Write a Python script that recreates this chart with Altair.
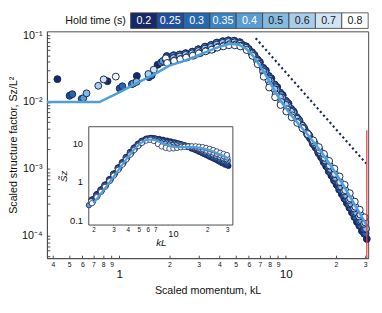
import altair as alt
import pandas as pd

# ---------------- data ----------------
HOLD = ["0.2", "0.25", "0.3", "0.35", "0.4", "0.5", "0.6", "0.7", "0.8"]
FILL = ["#172a66", "#1f4f9d", "#2767b0", "#3d83c3", "#5b9dd2",
        "#86b9de", "#aacdea", "#d0e4f4", "#ffffff"]
LABEL_INK = ["#ffffff"] * 5 + ["#1b1b1b"] * 4

# low-momentum points (main panel): scaled momentum kL and S_z/L^2
LOW_KL = [
    [0.425, 0.85, 1.275, 1.70],
    [0.503, 1.006, 1.51],
    [0.522, 1.044, 1.566],
    [0.595, 1.19, 1.785],
    [0.608, 1.216, 1.824],
    [0.636, 1.27, 1.905],
    [0.748, 1.496],
    [0.806, 1.612],
    [0.953, 1.906],
]
LOW_S = [
    [0.0220, 0.0205, 0.0245, 0.0360],
    [0.0124, 0.0160, 0.0235],
    [0.0131, 0.0172, 0.0250],
    [0.0112, 0.0185, 0.0390],
    [0.0114, 0.0190, 0.0410],
    [0.0135, 0.0200, 0.0430],
    [0.0175, 0.0262],
    [0.0218, 0.0305],
    [0.0240, 0.0450],
]

# momentum grid (kL >= 2) and per-series grid ratio (k L(t) offsets)
GRID_KL = [2.0, 2.2, 2.4, 2.6, 2.85, 3.1, 3.4, 3.7, 4.0, 4.35, 4.7, 5.1, 5.5,
           6.0, 6.5, 7.0, 7.6, 8.2, 8.9, 9.6, 10.4, 11.2, 12.1, 13.0, 14.0,
           15.1, 16.3, 17.5, 18.8, 20.2, 21.7, 23.3, 25.0, 26.8, 28.7, 30.7]
GRID_RATIO = [1.000, 0.965, 0.982, 0.958, 0.975, 0.990, 0.962, 0.978, 0.970]

# compensated structure factor (inset), one row per hold time, on GRID_KL
SC = [
    [0.36, 0.50, 0.66, 0.88, 1.22, 1.70, 2.45, 3.35, 4.55, 6.1, 8.0, 10.0, 11.9, 13.4, 13.8,
     13.5, 13.0, 12.4, 11.8, 11.2, 10.6, 10.0, 9.3, 8.6, 7.9, 7.2, 6.5, 5.9, 5.3, 4.8, 4.3, 3.9, 3.5, 3.1, 2.8, 2.6],
    [0.35, 0.48, 0.64, 0.85, 1.18, 1.65, 2.38, 3.25, 4.45, 6.0, 7.8, 9.8, 11.7, 13.2, 13.7,
     13.4, 12.8, 12.2, 11.6, 11.0, 10.5, 9.9, 9.3, 8.7, 8.0, 7.3, 6.7, 6.1, 5.5, 5.0, 4.5, 4.1, 3.7, 3.3, 3.0, 2.8],
    [0.34, 0.47, 0.63, 0.83, 1.16, 1.62, 2.33, 3.2, 4.35, 5.9, 7.7, 9.7, 11.5, 13.0, 13.5,
     13.3, 12.6, 12.0, 11.4, 10.9, 10.4, 9.9, 9.3, 8.7, 8.1, 7.5, 6.9, 6.3, 5.7, 5.2, 4.7, 4.3, 3.9, 3.5, 3.2, 3.0],
    [0.33, 0.46, 0.62, 0.82, 1.14, 1.60, 2.30, 3.15, 4.3, 5.8, 7.6, 9.6, 11.4, 12.9, 13.4,
     13.2, 12.4, 11.8, 11.2, 10.7, 10.3, 9.8, 9.3, 8.8, 8.2, 7.6, 7.0, 6.5, 5.9, 5.4, 4.9, 4.5, 4.1, 3.7, 3.4, 3.2],
    [0.32, 0.45, 0.61, 0.81, 1.13, 1.58, 2.27, 3.1, 4.25, 5.75, 7.5, 9.5, 11.3, 12.8, 13.3,
     13.0, 12.2, 11.5, 10.9, 10.5, 10.1, 9.7, 9.3, 8.8, 8.3, 7.8, 7.2, 6.7, 6.1, 5.6, 5.1, 4.7, 4.3, 3.9, 3.6, 3.4],
    [0.31, 0.44, 0.60, 0.80, 1.12, 1.56, 2.24, 3.05, 4.2, 5.7, 7.4, 9.4, 11.2, 12.7, 13.2,
     12.8, 11.8, 11.0, 10.4, 10.0, 9.7, 9.5, 9.2, 8.8, 8.4, 7.9, 7.4, 6.9, 6.4, 5.9, 5.4, 5.0, 4.6, 4.2, 3.9, 3.6],
    [0.30, 0.43, 0.59, 0.79, 1.10, 1.53, 2.2, 3.0, 4.1, 5.6, 7.3, 9.2, 11.0, 12.5, 13.0,
     12.5, 11.2, 10.3, 9.7, 9.3, 9.1, 9.0, 8.9, 8.7, 8.4, 8.0, 7.6, 7.1, 6.6, 6.1, 5.7, 5.2, 4.8, 4.4, 4.1, 3.9],
    [0.29, 0.42, 0.57, 0.77, 1.08, 1.50, 2.15, 2.9, 4.0, 5.4, 7.1, 9.0, 10.8, 12.3, 12.8,
     12.0, 10.4, 9.3, 8.6, 8.3, 8.2, 8.3, 8.4, 8.4, 8.3, 8.1, 7.8, 7.4, 7.0, 6.5, 6.1, 5.7, 5.3, 4.9, 4.6, 4.3],
    [0.28, 0.40, 0.55, 0.74, 1.04, 1.45, 2.05, 2.8, 3.8, 5.1, 6.7, 8.5, 10.3, 11.8, 12.3,
     11.5, 9.6, 8.3, 7.6, 7.3, 7.4, 7.6, 7.9, 8.1, 8.3, 8.4, 8.4, 8.2, 8.0, 7.6, 7.2, 6.7, 6.2, 5.7, 5.3, 5.0],
]

# theory curve: low part as S_z/L^2, high part as compensated value
THEORY_LOW_KL = [0.3677, 0.76, 1.0, 1.3, 1.6]
THEORY_LOW_S = [0.010, 0.010, 0.0140, 0.0196, 0.0255]
THEORY_KL = [2.0, 2.4, 2.85, 3.4, 4.0, 4.6, 5.2, 5.8, 6.4, 7.0, 7.8, 8.6, 9.4,
             10.5, 12.0, 14.0, 16.3, 19.0, 22.0, 25.0, 28.0, 30.7]
THEORY_SC = [0.28, 0.56, 1.1, 2.25, 4.3, 7.2, 10.2, 12.2, 12.6, 12.0, 10.7, 9.3, 8.4,
             8.0, 8.0, 8.1, 7.9, 7.2, 6.3, 5.4, 4.7, 4.1]

GUIDE_KL = [6.6, 30.5]          # k^-3 guide (dotted)
GUIDE_S = [0.090, 0.0012]
CUTOFF_KL = [30.7]              # red cut-off line
CUTOFF_S = [0.0038]
CUTOFF_S2 = [4.65e-5]

# ---------------- tables ----------------
rows = []
for j, t in enumerate(HOLD):
    for kl, s in zip(LOW_KL[j], LOW_S[j]):
        rows.append({"hold": t, "idx": j, "kL": kl, "S": s, "Sc": s * kl ** 3})
    for kl0, sc in zip(GRID_KL, SC[j]):
        kl = kl0 * GRID_RATIO[j]
        rows.append({"hold": t, "idx": j, "kL": kl, "S": sc / kl ** 3, "Sc": sc})
pts_df = pd.DataFrame(rows)

th_rows = [{"kL": k, "S": s, "Sc": s * k ** 3} for k, s in zip(THEORY_LOW_KL, THEORY_LOW_S)]
th_rows += [{"kL": k, "S": sc / k ** 3, "Sc": sc} for k, sc in zip(THEORY_KL, THEORY_SC)]
th_df = pd.DataFrame(th_rows)

guide_df = pd.DataFrame({"kL": GUIDE_KL, "S": GUIDE_S})
cut_df = pd.DataFrame({"kL": CUTOFF_KL, "S": CUTOFF_S, "S2": CUTOFF_S2})

leg_df = pd.DataFrame({"hold": HOLD, "i0": list(range(9)), "i1": list(range(1, 10)),
                       "ink": LABEL_INK})
leg_df["ic"] = leg_df["i0"] + 0.5
leg_df["y0"] = 0.0
leg_df["y1"] = 1.0
leg_df["ym"] = 0.5
leg_title_df = pd.DataFrame({"txt": ["Hold time (s)"], "x": [-0.18], "y": [0.5]})

NAVY = "#17285c"
AX = "#4a4a4a"
W, H = 330, 233

# ---------------- main panel ----------------
xs_main = alt.Scale(type="log", domain=[0.3677, 31.28], nice=False)
ys_main = alt.Scale(type="log", domain=[4.65e-5, 0.1139], nice=False)
fill_scale = alt.Scale(domain=HOLD, range=FILL)

major_x = "datum.value == 1 || datum.value == 10"
main_x_axis = alt.Axis(
    values=[0.4, 0.5, 0.6, 0.7, 0.8, 0.9, 1, 2, 3, 4, 5, 6, 7, 8, 9, 10, 20, 30],
    labelExpr="datum.value < 1 ? format(datum.value*10, 'd') : datum.value < 10 ? format(datum.value, 'd') : datum.value == 10 ? '10' : format(datum.value/10, 'd')",
    labelFontSize={"condition": {"test": major_x, "value": 12}, "value": 7},
    labelPadding={"condition": {"test": major_x, "value": 14}, "value": 6},
    tickSize={"expr": "-3"},
    labelOverlap=False, labelFlush=False, grid=False,
    title="Scaled momentum, kL", titleFontSize=11, titlePadding=5,
)
y_vals = [m * 10.0 ** e for e in range(-5, 0) for m in range(1, 10)
          if 4.65e-5 <= m * 10.0 ** e <= 0.1139]
main_y_axis = alt.Axis(
    values=y_vals,
    labelExpr="datum.value == 0.1 ? '10⁻¹' : datum.value == 0.01 ? '10⁻²' : datum.value == 0.001 ? '10⁻³' : datum.value == 0.0001 ? '10⁻⁴' : ''",
    labelFontSize=11, labelPadding=8, tickSize={"expr": "-3"},
    labelOverlap=False, labelFlush=False, grid=False,
    title="Scaled structure factor, Sz/L²", titleFontSize=11, titlePadding=3,
)

X = alt.X("kL:Q", scale=xs_main, axis=main_x_axis)
Y = alt.Y("S:Q", scale=ys_main, axis=main_y_axis)

pts = alt.Chart(pts_df).mark_circle(size=50, opacity=1, stroke=NAVY, strokeWidth=1).encode(
    x=X, y=Y,
    fill=alt.Fill("hold:N", scale=fill_scale, legend=None),
    order=alt.Order("idx:Q"),
)
theory = alt.Chart(th_df).mark_line(color="#4f9fdb", strokeWidth=2.6).encode(
    x=X, y=Y, order="kL:Q")
guide = alt.Chart(guide_df).mark_line(color=NAVY, strokeWidth=2.2, strokeDash=[2.2, 2.8]).encode(
    x=X, y=Y)
cutoff = alt.Chart(cut_df).mark_rule(color="#e8413c", strokeWidth=1.3).encode(
    x=X, y=Y, y2="S2:Q")
main_layer = alt.layer(pts, theory, guide, cutoff)

# ---------------- inset ----------------
xs_in = alt.Scale(type="log", domain=[1.82, 33.6], nice=False, range=[43, 191])
ys_in = alt.Scale(type="log", domain=[0.076, 27], nice=False, range=[199, 98])
in_x_axis = alt.Axis(
    orient="bottom", offset=199 - H, domain=False, grid=False,
    values=[2, 3, 4, 5, 6, 7, 8, 9, 10, 20, 30],
    labelExpr="datum.value == 10 ? '10' : (datum.value == 8 || datum.value == 9) ? '' : datum.value > 10 ? format(datum.value/10, 'd') : format(datum.value, 'd')",
    labelFontSize={"condition": {"test": "datum.value == 10", "value": 9.5}, "value": 6.5},
    labelPadding={"condition": {"test": "datum.value == 10", "value": 6.5}, "value": 4.5},
    tickSize={"expr": "-2.5"}, labelOverlap=False, labelFlush=False,
    title="kL", titleFontStyle="italic", titleFontSize=10, titlePadding=0,
)
in_y_vals = [m * 10.0 ** e for e in range(-2, 2) for m in range(1, 10)
             if 0.076 <= m * 10.0 ** e <= 27]
in_y_axis = alt.Axis(
    orient="left", offset=-43, domain=False, grid=False,
    values=in_y_vals,
    labelExpr="datum.value == 0.1 ? '0.1' : datum.value == 1 ? '1' : datum.value == 10 ? '10' : ''",
    labelFontSize=9.5, labelPadding=9, tickSize={"expr": "-2.5"},
    labelOverlap=False, labelFlush=False,
    title="S̃z", titleFontStyle="italic", titleFontSize=10, titlePadding=1,
)
XI = alt.X("kL:Q", scale=xs_in, axis=in_x_axis)
YI = alt.Y("Sc:Q", scale=ys_in, axis=in_y_axis)
in_filter = "datum.kL >= 1.82 && datum.kL <= 33.6"

frame_df = pd.DataFrame({"kL": [1.82], "kL2": [33.6], "Sc": [0.076], "Sc2": [27.0]})
frame = alt.Chart(frame_df).mark_rect(fill="white", stroke=AX, strokeWidth=1).encode(
    x=XI, x2="kL2:Q", y=YI, y2="Sc2:Q")
in_pts = alt.Chart(pts_df).transform_filter(in_filter).mark_circle(
    size=30, opacity=1, stroke=NAVY, strokeWidth=0.8).encode(
    x=XI, y=YI,
    fill=alt.Fill("hold:N", scale=fill_scale, legend=None),
    order=alt.Order("idx:Q"),
)
in_theory = alt.Chart(th_df).transform_filter(in_filter).mark_line(
    color="#4f9fdb", strokeWidth=2.2).encode(x=XI, y=YI, order="kL:Q")
inset_layer = alt.layer(frame, in_pts, in_theory)

# ---------------- legend strip ----------------
xs_leg = alt.Scale(domain=[0, 9], range=[86, W], nice=False, zero=False)
ys_leg = alt.Scale(domain=[0, 1], range=[-3, -19], nice=False, zero=False)
leg_rect = alt.Chart(leg_df).mark_rect(stroke="#3a3a3a", strokeWidth=0.8).encode(
    x=alt.X("i0:Q", scale=xs_leg, axis=None), x2="i1:Q",
    y=alt.Y("y0:Q", scale=ys_leg, axis=None), y2="y1:Q",
    fill=alt.Fill("hold:N", scale=fill_scale, legend=None),
)
leg_text = alt.Chart(leg_df).mark_text(fontSize=11, baseline="middle").encode(
    x=alt.X("ic:Q", scale=xs_leg, axis=None),
    y=alt.Y("ym:Q", scale=ys_leg, axis=None),
    text="hold:N",
    color=alt.Color("ink:N", scale=None),
)
leg_title = alt.Chart(leg_title_df).mark_text(fontSize=11, align="right", baseline="middle",
                                             color="#111111").encode(
    x=alt.X("x:Q", scale=xs_leg, axis=None),
    y=alt.Y("y:Q", scale=ys_leg, axis=None),
    text="txt:N",
)
legend_layer = alt.layer(leg_rect, leg_text, leg_title)

chart = alt.layer(main_layer, inset_layer, legend_layer).resolve_scale(
    x="independent", y="independent"
).properties(
    width=W, height=H,
    padding={"left": 0, "top": 0, "right": 1, "bottom": 0},
).configure(font="Liberation Sans").configure_view(
    stroke=AX, strokeWidth=1
).configure_axis(
    domainColor=AX, tickColor=AX, labelColor="#111111", titleColor="#111111",
    titleFontWeight="normal", domainWidth=1, tickWidth=1,
)

chart.save("out.html", embed_options={"renderer": "svg", "actions": False})
